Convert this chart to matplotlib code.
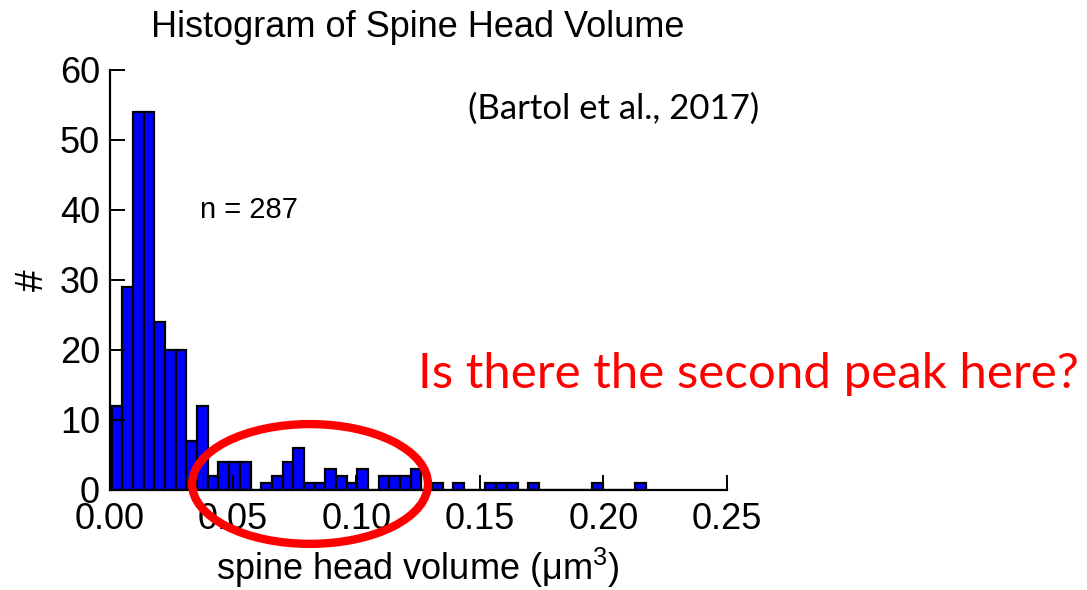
import numpy as np
import matplotlib as mpl
mpl.use('Agg')
import matplotlib.pyplot as plt
from matplotlib.patches import Ellipse

# Histogram counts (50 bins)
bin_lo, bin_hi = 0.0008, 0.2172
counts = [12, 29, 54, 54, 24, 20, 20, 7, 12, 2,
          4, 4, 4, 0, 1, 2, 4, 6, 1, 1,
          3, 2, 1, 3, 0, 2, 2, 2, 3, 0,
          1, 0, 1, 0, 0, 1, 1, 1, 0, 1,
          0, 0, 0, 0, 0, 1, 0, 0, 0, 1]
xticks = [0.00, 0.05, 0.10, 0.15, 0.20, 0.25]
yticks = [0, 10, 20, 30, 40, 50, 60]

title = 'Histogram of Spine Head Volume'
xlabel = 'spine head volume (μm$^3$)'
ylabel = '#'
n_text = 'n = 287'
ref_text = '(Bartol et al., 2017)'
question = 'Is there the second peak here?'

plt.rcParams['font.family'] = ['Liberation Sans', 'DejaVu Sans']
plt.rcParams['mathtext.fontset'] = 'custom'
plt.rcParams['mathtext.rm'] = 'Liberation Sans'
plt.rcParams['mathtext.it'] = 'Liberation Sans'

edges = np.linspace(bin_lo, bin_hi, len(counts) + 1)

fig = plt.figure(figsize=(10.87, 5.9), dpi=100)
ax = fig.add_axes([0.1009, 0.1695, 0.5676, 0.7119])
ax.bar(edges[:-1], counts, width=np.diff(edges), align='edge',
       color='#0000ff', edgecolor='black', linewidth=1.6)

ax.set_xlim(0, 0.25)
ax.set_ylim(0, 60)
ax.set_xticks(xticks)
ax.set_xticklabels(['%.2f' % t for t in xticks])
ax.set_yticks(yticks)
ax.tick_params(direction='in', length=11, width=1.4, labelsize=26, pad=7)
ax.tick_params(axis='x', pad=9)
ax.spines['top'].set_visible(False)
ax.spines['right'].set_visible(False)
ax.spines['left'].set_linewidth(1.6)
ax.spines['bottom'].set_linewidth(1.6)

ax.set_title(title, fontsize=26, pad=24)
ax.set_xlabel(xlabel, fontsize=26, labelpad=6)
ax.set_ylabel(ylabel, fontsize=28, labelpad=6)

fig.text(0.184, 0.644, n_text, fontsize=21, va='center', ha='left')
fig.text(0.4305, 0.815, ref_text, fontsize=25, va='center', ha='left', family='Lato')
fig.text(0.3845, 0.3665, question, fontsize=35.5, va='center', ha='left',
         color='#ff0000', family='Lato')

# red ellipse around the bump
ell = Ellipse((0.2852, 0.1797), 0.217, 0.203, transform=fig.transFigure,
              fill=False, edgecolor='#ff0000', linewidth=6, zorder=10)
fig.patches.append(ell)

fig.savefig('out.png', dpi=100)
